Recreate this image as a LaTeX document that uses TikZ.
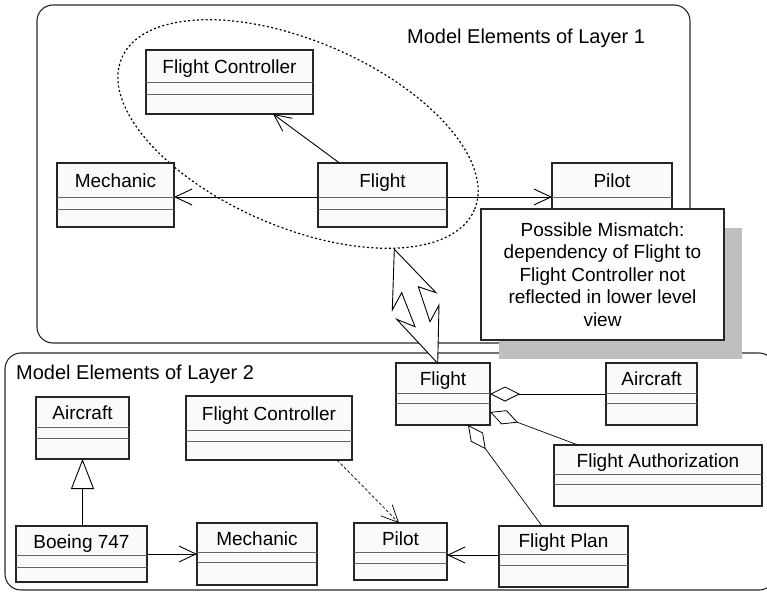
\documentclass[tikz,border=0pt]{standalone}
\usepackage{fontspec}
\setmainfont{Liberation Sans}
\usetikzlibrary{arrows.meta,calc}

% class box: name, x1, y1, x2, y2, first divider, second divider, title
\newcommand{\umlclass}[8]{%
  \node[classbox, minimum width={(#4-#2)*1pt}, minimum height={(#5-#3)*1pt}]
    (#1) at ({(#2+#4)/2},{(#3+#5)/2}) {};
  \draw[divider] (#1.west |- 0,#6) -- (#1.east |- 0,#6);
  \draw[divider] (#1.west |- 0,#7) -- (#1.east |- 0,#7);
  \node[classname] (#1-title) at ({(#2+#4)/2},{(#3+#6)/2}) {#8};
}

\begin{document}
\begin{tikzpicture}[x=1pt,y=-1pt,
  layerframe/.style={draw=black!85, line width=1.1pt, rounded corners=16pt},
  classbox/.style={draw=black!85, line width=1.1pt, fill=black!2, inner sep=0pt, outer sep=0pt},
  divider/.style={draw=black!60, line width=1pt},
  classname/.style={font=\fontsize{19}{22}\selectfont, inner sep=0pt, text height=18pt, text depth=3pt},
  layerlabel/.style={font=\fontsize{20}{24}\selectfont, inner sep=0pt, anchor=base west},
  assoc/.style={draw=black, line width=0.9pt},
  navarrow/.style={assoc, -{Straight Barb[length=17pt,width=16pt,line width=0.9pt]}},
  depend/.style={draw=black, line width=0.7pt, dash pattern=on 3pt off 2pt,
                 -{Straight Barb[length=17pt,width=16pt,line width=0.7pt]}},
  inherit/.style={assoc, -{Triangle[open,length=30pt,width=23pt,line width=0.9pt]}},
  aggreg/.style={draw=black, line width=0.7pt, {Diamond[open,length=30pt,width=15pt,line width=0.8pt]}-},
  scopering/.style={draw=black, line width=1.2pt, dash pattern=on 2pt off 2.4pt},
  notebox/.style={draw=black!85, line width=1.1pt, fill=white, inner sep=0pt,
                  minimum width=243pt, minimum height=131pt, align=center,
                  font=\fontsize{19}{22.6}\selectfont},
  shadowbox/.style={fill=black!25, inner sep=0pt, minimum width=243pt, minimum height=131pt},
  bolt/.style={draw=black, line width=0.9pt, fill=white, line join=miter}
]
\useasboundingbox (0,0) rectangle (767,591);
\clip (0,0) rectangle (767,591);

% layer frames
\draw[layerframe] (37,5) rectangle (690,343);
\draw[layerframe] (5,353) rectangle (775,590);
\node[layerlabel] (lbl1) at (407,43.5) {Model Elements of Layer 1};
\node[layerlabel] (lbl2) at (16,379) {Model Elements of Layer 2};

% scope of the dependency under discussion
\draw[scopering, rotate around={-23.3:(298,134)}] (298,134) ellipse [x radius=192, y radius=93];

% ---- layer 1 classes
\umlclass{fc1}{146}{50}{313}{114}{83}{95}{Flight Controller}
\umlclass{mech1}{57}{163}{174}{227}{197}{209}{Mechanic}
\umlclass{fl1}{318}{163}{447}{227}{197}{209}{Flight}
\umlclass{pil1}{552}{163}{672}{227}{197}{209}{Pilot}

\draw[navarrow] ([xshift=-43pt]fl1.north) -- ([xshift=43.5pt]fc1.south);
\draw[navarrow] ([yshift=-2pt]fl1.west) -- ([yshift=-2pt]fl1.west -| mech1.east);
\draw[navarrow] ([yshift=-2pt]fl1.east) -- ([yshift=-2pt]fl1.east -| pil1.west);

% ---- layer 2 classes
\umlclass{acl}{36}{397}{129}{459}{427}{438}{Aircraft}
\umlclass{fc2}{186}{396}{352}{460}{430}{441}{Flight Controller}
\umlclass{boe}{16}{526}{147}{582}{555}{567}{Boeing 747}
\umlclass{mech2}{197}{523}{317}{585}{552}{562}{Mechanic}
\umlclass{pil2}{354}{523}{447}{580}{552}{563}{Pilot}
\umlclass{fl2}{396}{363}{490}{425}{393}{403}{Flight}
\umlclass{acr}{606}{363}{697}{425}{393}{403}{Aircraft}
\umlclass{fa}{554}{445}{762}{506}{474}{484}{Flight Authorization}
\umlclass{fp}{499}{526}{628}{587}{554}{565}{Flight Plan}

\draw[inherit] (boe.north -| acl.south) -- (acl.south);
\draw[navarrow] (boe.east) -- (boe.east -| mech2.west);
\draw[depend] ([xshift=68pt]fc2.south) -- ([xshift=-1.5pt]pil2.north);
\draw[navarrow] ([yshift=1.5pt]fp.west) -- ([yshift=1.5pt]fp.west -| pil2.east);
\draw[aggreg] (fl2.east) -- (fl2.east -| acr.west);
\draw[aggreg] ([yshift=-18pt]fl2.east) -- ([xshift=-80pt]fa.north);
\draw[aggreg] ([xshift=25pt]fl2.south) -- ([xshift=-21.5pt]fp.north);

% note with its drop shadow
\node[shadowbox] (noteshadow) at (620.5,293.5) {};
\node[notebox] (note) at (602.5,274.5) {Possible Mismatch:\\dependency of Flight to\\Flight Controller not\\reflected in lower level\\view};

% zigzag double arrow between the layers
\draw[bolt] (394.3,249.3) -- (436,292.7) -- (418.3,286.7) -- (430,321.7) -- (439,305)
  -- (437.7,363.3) -- (396.7,319.3) -- (415,326.7) -- (401.7,292.7) -- (392.3,310) -- cycle;
\end{tikzpicture}
\end{document}
